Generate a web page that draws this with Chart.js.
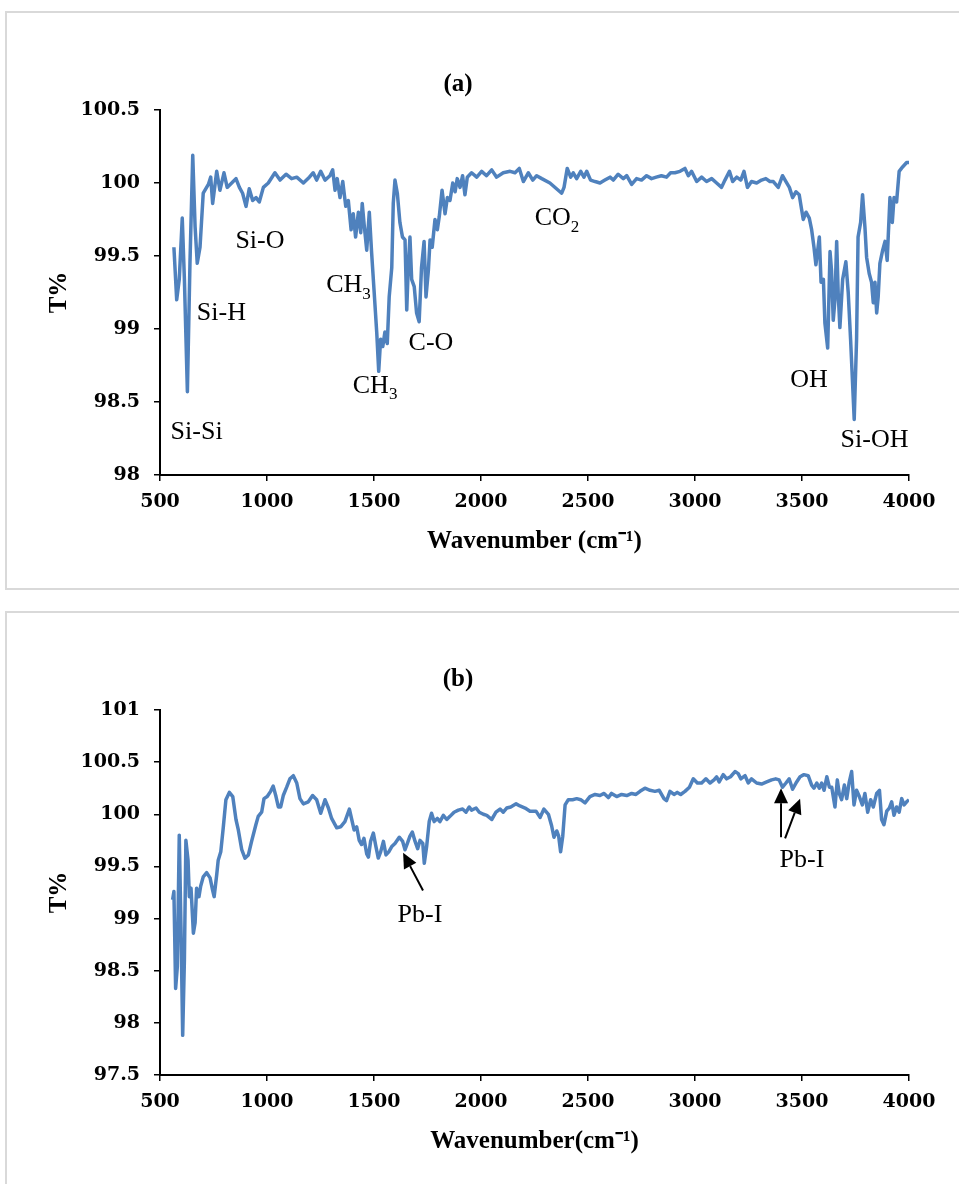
<!DOCTYPE html>
<html>
<head>
<meta charset="utf-8">
<script src="https://cdn.jsdelivr.net/npm/chart.js@4.4.1/dist/chart.umd.min.js"></script>
<style>
  body { margin: 0; background: #fff; overflow: hidden; }
  .box { position: absolute; left: 5px; width: 1000px; height: 575px; border: 2px solid #d9d9d9; }
  .box canvas { display: block; }
</style>
</head>
<body>
<div class="box" style="top:11px"><canvas id="chartA" width="974" height="575"></canvas></div>
<div class="box" style="top:611px"><canvas id="chartB" width="974" height="575"></canvas></div>
<script>
// spectrum (a)
const waveA = [
  565, 578, 590, 604, 614, 628, 640, 653, 664, 674,
  687, 702, 726, 737, 746, 765, 780, 799, 814, 835,
  855, 871, 886, 902, 917, 933, 949, 964, 983, 1006,
  1037, 1061, 1089, 1115, 1139, 1170, 1198, 1216, 1232, 1251,
  1271, 1294, 1307, 1318, 1328, 1341, 1354, 1368, 1380, 1393,
  1403, 1414, 1427, 1438, 1445, 1455, 1466, 1478, 1489, 1500,
  1513, 1522, 1531, 1541, 1551, 1562, 1571, 1583, 1590, 1598,
  1609, 1621, 1633, 1645, 1653, 1660, 1668, 1676, 1688, 1699,
  1711, 1722, 1734, 1743, 1754, 1762, 1772, 1785, 1796, 1805,
  1818, 1832, 1843, 1855, 1868, 1879, 1889, 1902, 1914, 1925,
  1936, 1956, 1980, 2003, 2026, 2050, 2073, 2104, 2136, 2159,
  2179, 2198, 2221, 2242, 2260, 2284, 2322, 2377, 2388, 2403,
  2419, 2431, 2447, 2466, 2481, 2494, 2512, 2533, 2556, 2579,
  2603, 2618, 2641, 2665, 2681, 2704, 2727, 2750, 2774, 2797,
  2819, 2843, 2867, 2886, 2906, 2930, 2953, 2969, 2984, 3008,
  3031, 3054, 3078, 3101, 3124, 3140, 3161, 3176, 3195, 3214,
  3229, 3245, 3264, 3288, 3311, 3331, 3350, 3366, 3389, 3409,
  3425, 3441, 3456, 3472, 3487, 3498, 3506, 3519, 3534, 3545,
  3556, 3565, 3581, 3589, 3600, 3607, 3620, 3631, 3638, 3646,
  3654, 3662, 3669, 3677, 3690, 3705, 3716, 3727, 3744, 3755,
  3762, 3774, 3783, 3794, 3802, 3814, 3825, 3833, 3841, 3849,
  3856, 3864, 3877, 3888, 3898, 3911, 3922, 3930, 3942, 3954,
  3970, 3989, 4000
];
const transA = [
  99.56, 99.20, 99.34, 99.76, 99.34, 98.57, 99.45, 100.19, 99.70, 99.45,
  99.56, 99.93, 99.99, 100.04, 99.86, 100.08, 99.95, 100.07, 99.97, 100.00,
  100.03, 99.97, 99.93, 99.84, 99.96, 99.88, 99.90, 99.87, 99.97, 100.00,
  100.07, 100.02, 100.06, 100.03, 100.04, 100.00, 100.04, 100.07, 100.02, 100.08,
  100.02, 100.05, 100.09, 99.95, 100.03, 99.90, 100.01, 99.84, 99.88, 99.68,
  99.79, 99.63, 99.80, 99.66, 99.86, 99.70, 99.54, 99.80, 99.52, 99.27,
  98.97, 98.71, 98.93, 98.88, 98.98, 98.90, 99.22, 99.42, 99.86, 100.02,
  99.93, 99.73, 99.63, 99.61, 99.13, 99.42, 99.63, 99.34, 99.29, 99.11,
  99.05, 99.42, 99.60, 99.22, 99.40, 99.61, 99.56, 99.75, 99.68, 99.77,
  99.95, 99.79, 99.90, 99.88, 100.00, 99.94, 100.03, 99.97, 100.05, 99.92,
  100.04, 100.07, 100.04, 100.08, 100.05, 100.09, 100.04, 100.07, 100.08, 100.07,
  100.10, 100.01, 100.07, 100.02, 100.05, 100.03, 100.00, 99.93, 99.97, 100.10,
  100.04, 100.07, 100.03, 100.08, 100.04, 100.08, 100.02, 100.01, 100.00, 100.02,
  100.04, 100.02, 100.06, 100.03, 100.05, 99.99, 100.03, 100.02, 100.05, 100.03,
  100.04, 100.05, 100.04, 100.07, 100.07, 100.08, 100.10, 100.05, 100.08, 100.01,
  100.04, 100.01, 100.03, 100.00, 99.97, 100.02, 100.08, 100.01, 100.04, 100.02,
  100.08, 99.97, 100.01, 100.00, 100.02, 100.03, 100.01, 100.01, 99.97, 100.05,
  100.01, 99.97, 99.90, 99.94, 99.92, 99.82, 99.75, 99.80, 99.76, 99.68,
  99.56, 99.44, 99.63, 99.32, 99.34, 99.04, 98.87, 99.53, 99.40, 99.06,
  99.20, 99.60, 99.25, 99.01, 99.34, 99.46, 99.25, 98.93, 98.38, 98.93,
  99.63, 99.73, 99.92, 99.70, 99.49, 99.38, 99.32, 99.18, 99.32, 99.11,
  99.22, 99.45, 99.54, 99.60, 99.47, 99.90, 99.73, 99.90, 99.87, 100.08,
  100.11, 100.14, 100.14
];

// spectrum (b)
const waveB = [
  559, 565, 573, 581, 590, 598, 606, 614, 621, 631,
  637, 645, 656, 664, 671, 682, 690, 702, 718, 734,
  746, 753, 765, 772, 784, 796, 808, 824, 840, 855,
  866, 882, 897, 913, 928, 948, 959, 975, 986, 1001,
  1017, 1029, 1042, 1053, 1064, 1076, 1092, 1107, 1123, 1139,
  1154, 1170, 1193, 1213, 1232, 1251, 1271, 1287, 1302, 1326,
  1344, 1364, 1385, 1396, 1407, 1419, 1431, 1442, 1453, 1466,
  1474, 1484, 1497, 1509, 1520, 1531, 1544, 1556, 1569, 1583,
  1598, 1618, 1634, 1645, 1656, 1668, 1679, 1692, 1704, 1715,
  1728, 1735, 1746, 1758, 1769, 1781, 1796, 1808, 1824, 1840,
  1855, 1874, 1894, 1914, 1930, 1945, 1956, 1977, 1992, 2011,
  2027, 2050, 2070, 2089, 2104, 2120, 2139, 2164, 2182, 2206,
  2229, 2257, 2276, 2294, 2315, 2330, 2341, 2354, 2363, 2372,
  2382, 2393, 2408, 2428, 2447, 2466, 2486, 2509, 2533, 2556,
  2575, 2595, 2610, 2634, 2657, 2681, 2704, 2724, 2743, 2766,
  2790, 2813, 2833, 2855, 2867, 2883, 2902, 2917, 2933, 2953,
  2974, 2992, 3011, 3031, 3051, 3070, 3089, 3101, 3113, 3132,
  3148, 3166, 3187, 3202, 3214, 3234, 3249, 3264, 3288, 3311,
  3335, 3358, 3377, 3393, 3409, 3425, 3440, 3456, 3475, 3491,
  3509, 3529, 3545, 3556, 3569, 3581, 3592, 3603, 3616, 3628,
  3639, 3654, 3665, 3674, 3685, 3698, 3709, 3720, 3732, 3743,
  3755, 3768, 3782, 3794, 3807, 3821, 3833, 3849, 3862, 3872,
  3883, 3896, 3908, 3919, 3930, 3942, 3954, 3966, 3977, 3989,
  4000
];
const transB = [
  99.18, 99.26, 98.33, 98.54, 99.80, 98.92, 97.88, 98.60, 99.75, 99.56,
  99.21, 99.29, 98.86, 98.96, 99.29, 99.21, 99.31, 99.40, 99.44, 99.39,
  99.27, 99.21, 99.42, 99.56, 99.64, 99.88, 100.14, 100.21, 100.17, 99.95,
  99.85, 99.66, 99.58, 99.61, 99.74, 99.90, 99.98, 100.02, 100.15, 100.17,
  100.22, 100.27, 100.17, 100.07, 100.07, 100.18, 100.26, 100.34, 100.37, 100.30,
  100.15, 100.10, 100.12, 100.18, 100.14, 100.01, 100.14, 100.06, 99.96, 99.87,
  99.88, 99.93, 100.05, 99.95, 99.85, 99.88, 99.75, 99.71, 99.77, 99.62,
  99.59, 99.74, 99.82, 99.69, 99.58, 99.64, 99.74, 99.61, 99.64, 99.69,
  99.72, 99.78, 99.74, 99.66, 99.72, 99.79, 99.83, 99.74, 99.67, 99.75,
  99.72, 99.53, 99.69, 99.93, 100.01, 99.93, 99.96, 99.93, 99.99, 99.95,
  99.98, 100.02, 100.04, 100.05, 100.02, 100.07, 100.04, 100.06, 100.02, 100.00,
  99.99, 99.95, 100.02, 100.05, 100.02, 100.06, 100.07, 100.10, 100.08, 100.06,
  100.03, 100.03, 99.97, 100.05, 100.00, 99.89, 99.78, 99.84, 99.79, 99.64,
  99.79, 100.09, 100.14, 100.14, 100.15, 100.14, 100.11, 100.17, 100.19, 100.18,
  100.20, 100.16, 100.20, 100.17, 100.19, 100.18, 100.20, 100.19, 100.22, 100.25,
  100.23, 100.22, 100.23, 100.15, 100.13, 100.22, 100.19, 100.21, 100.19, 100.22,
  100.26, 100.34, 100.30, 100.30, 100.34, 100.30, 100.33, 100.36, 100.31, 100.38,
  100.34, 100.36, 100.41, 100.39, 100.34, 100.37, 100.30, 100.34, 100.30, 100.29,
  100.31, 100.33, 100.34, 100.33, 100.26, 100.30, 100.34, 100.24, 100.31, 100.36,
  100.38, 100.37, 100.28, 100.25, 100.30, 100.25, 100.30, 100.23, 100.36, 100.26,
  100.26, 100.07, 100.33, 100.20, 100.14, 100.28, 100.15, 100.30, 100.41, 100.09,
  100.23, 100.17, 100.09, 100.20, 100.02, 100.14, 100.07, 100.20, 100.23, 99.95,
  99.90, 100.03, 100.06, 100.12, 99.99, 100.07, 100.02, 100.15, 100.09, 100.12,
  100.14
];

const xTicks = [500, 1000, 1500, 2000, 2500, 3000, 3500, 4000];

// peak labels, placed in data units
const notesA = [
  { text: 'Si-Si', x: 671, y: 98.29 },
  { text: 'Si-H', x: 787, y: 99.11 },
  { text: 'Si-O', x: 967, y: 99.60 },
  { text: 'CH', sub: '3', x: 1381, y: 99.30 },
  { text: 'CH', sub: '3', x: 1505, y: 98.61 },
  { text: 'C-O', x: 1766, y: 98.90 },
  { text: 'CO', sub: '2', x: 2355, y: 99.76 },
  { text: 'OH', x: 3533, y: 98.65 },
  { text: 'Si-OH', x: 3839, y: 98.24 }
];
const notesB = [
  { text: 'Pb-I', x: 1715, y: 99.03 },
  { text: 'Pb-I', x: 3500, y: 99.56 }
];
const arrowsB = [
  { x0: 1729, y0: 99.27, x1: 1636, y1: 99.63 },
  { x0: 3402, y0: 99.78, x1: 3402, y1: 100.25 },
  { x0: 3421, y0: 99.77, x1: 3491, y1: 100.15 }
];

const serif = '"Liberation Serif", "Times New Roman", serif';

const notesPlugin = {
  id: 'irNotes',
  afterDatasetsDraw(chart, args, opts) {
    const ctx = chart.ctx;
    const sx = chart.scales.x, sy = chart.scales.y;
    ctx.save();
    ctx.fillStyle = '#000';
    ctx.strokeStyle = '#000';
    ctx.textBaseline = 'middle';
    ctx.textAlign = 'left';
    (opts.labels || []).forEach(n => {
      const px = sx.getPixelForValue(n.x), py = sy.getPixelForValue(n.y);
      ctx.font = '26px ' + serif;
      const w1 = ctx.measureText(n.text).width;
      let w2 = 0;
      if (n.sub) {
        ctx.font = '17px ' + serif;
        w2 = ctx.measureText(n.sub).width;
      }
      const left = px - (w1 + w2) / 2;
      ctx.font = '26px ' + serif;
      ctx.fillText(n.text, left, py);
      if (n.sub) {
        ctx.font = '17px ' + serif;
        ctx.fillText(n.sub, left + w1, py + 9);
      }
    });
    (opts.arrows || []).forEach(a => {
      const x0 = sx.getPixelForValue(a.x0), y0 = sy.getPixelForValue(a.y0);
      const x1 = sx.getPixelForValue(a.x1), y1 = sy.getPixelForValue(a.y1);
      const ang = Math.atan2(y1 - y0, x1 - x0);
      const head = 15, half = 7;
      const bx = x1 - head * Math.cos(ang), by = y1 - head * Math.sin(ang);
      ctx.lineWidth = 2;
      ctx.beginPath();
      ctx.moveTo(x0, y0);
      ctx.lineTo(bx, by);
      ctx.stroke();
      ctx.beginPath();
      ctx.moveTo(x1, y1);
      ctx.lineTo(bx + half * Math.sin(ang), by - half * Math.cos(ang));
      ctx.lineTo(bx - half * Math.sin(ang), by + half * Math.cos(ang));
      ctx.closePath();
      ctx.fill();
    });
    ctx.restore();
  }
};

function makeChart(id, title, xTitle, waves, trans, yMin, yMax, notes, arrows, titleTop) {
  const tickFont = { family: '"DejaVu Serif", serif', size: 19, weight: 'bold' };
  const titleFont = { family: serif, size: 25, weight: 'bold' };
  const axisGrid = { drawOnChartArea: false, drawTicks: true, tickLength: 6, color: '#000', lineWidth: 1.5 };
  return new Chart(document.getElementById(id), {
    type: 'line',
    data: {
      datasets: [{
        data: waves.map((w, i) => ({ x: w, y: trans[i] })),
        borderColor: '#4f81bd',
        borderWidth: 3.5,
        pointRadius: 0,
        tension: 0,
        fill: false,
        borderJoinStyle: 'round'
      }]
    },
    options: {
      responsive: false,
      animation: false,
      layout: { padding: { left: 0, right: 72, top: 0, bottom: 0 } },
      plugins: {
        legend: { display: false },
        tooltip: { enabled: false },
        title: {
          display: true, text: title, color: '#000', font: titleFont,
          padding: { top: titleTop, bottom: 97 - 30 - titleTop }
        },
        irNotes: { labels: notes, arrows: arrows }
      },
      scales: {
        x: {
          type: 'linear', min: 500, max: 4000,
          afterFit: s => { s.height = 113; },
          afterBuildTicks: s => { s.ticks = xTicks.map(v => ({ value: v })); },
          ticks: { color: '#000', font: tickFont, padding: 10, maxRotation: 0, callback: v => String(v) },
          grid: axisGrid,
          border: { color: '#000', width: 2 },
          title: { display: true, text: xTitle, color: '#000', font: titleFont, padding: { top: 0, bottom: 31 } }
        },
        y: {
          min: yMin, max: yMax,
          afterFit: s => { s.width = 153; },
          ticks: { stepSize: 0.5, color: '#000', font: tickFont, padding: 14, callback: v => String(Math.round(v * 10) / 10) },
          grid: axisGrid,
          border: { color: '#000', width: 2 },
          title: { display: true, text: 'T%', color: '#000', font: titleFont, padding: { top: 38, bottom: 0 } }
        }
      }
    },
    plugins: [notesPlugin]
  });
}

makeChart('chartA', '(a)', 'Wavenumber (cm⁻¹)', waveA, transA, 98, 100.5, notesA, [], 57);
makeChart('chartB', '(b)', 'Wavenumber(cm⁻¹)', waveB, transB, 97.5, 101, notesB, arrowsB, 52);
</script>
</body>
</html>
